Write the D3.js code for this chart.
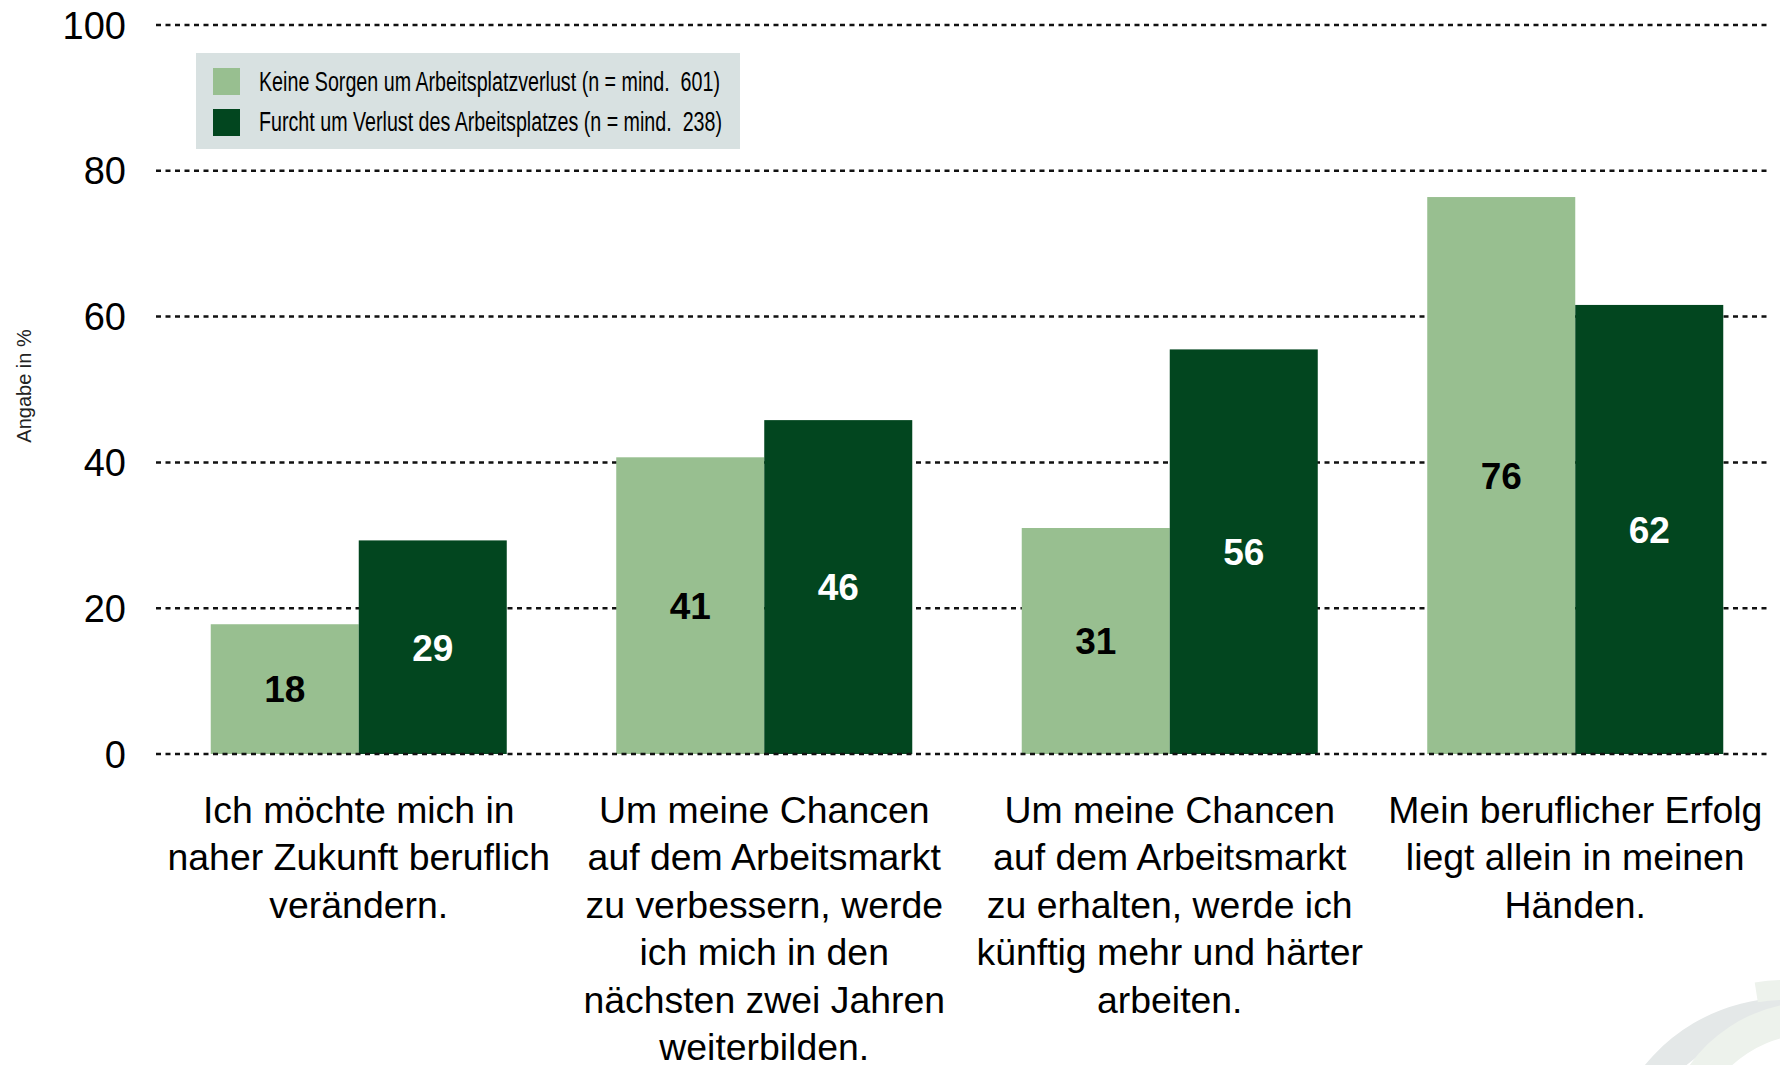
<!DOCTYPE html>
<html>
<head>
<meta charset="utf-8">
<script src="https://cdn.jsdelivr.net/npm/d3@7"></script>
<style>
  html, body { margin: 0; padding: 0; background: #fff; }
  svg { display: block; }
  .pre { white-space: pre; }
</style>
</head>
<body>
<svg id="chart" width="1780" height="1065"></svg>
<script>
const categories = [
  ["Ich möchte mich in", "naher Zukunft beruflich", "verändern."],
  ["Um meine Chancen", "auf dem Arbeitsmarkt", "zu verbessern, werde", "ich mich in den", "nächsten zwei Jahren", "weiterbilden."],
  ["Um meine Chancen", "auf dem Arbeitsmarkt", "zu erhalten, werde ich", "künftig mehr und härter", "arbeiten."],
  ["Mein beruflicher Erfolg", "liegt allein in meinen", "Händen."]
];
const seriesNames = [
  "Keine Sorgen um Arbeitsplatzverlust (n = mind.  601)",
  "Furcht um Verlust des Arbeitsplatzes (n = mind.  238)"
];
// bar heights
const keineSorgen = [17.8, 40.7, 31.0, 76.4];
const furcht = [29.3, 45.8, 55.5, 61.6];
// printed value labels
const keineSorgenLabels = [18, 41, 31, 76];
const furchtLabels = [29, 46, 56, 62];
const yTicks = [0, 20, 40, 60, 80, 100];
const yTitle = "Angabe in %";

const colors = ["#98bf90", "#02461f"];
const labelColors = ["#000", "#fff"];
const series = [keineSorgen, furcht];
const seriesLabels = [keineSorgenLabels, furchtLabels];

const svg = d3.select("#chart");
const font = "'Liberation Sans', Arial, Helvetica, sans-serif";

// Logo decoration (faint)
const deco = svg.append("g");
deco.append("path")
  .attr("d", d3.arc().innerRadius(152).outerRadius(182).startAngle(-Math.PI * 0.62).endAngle(Math.PI * 0.1)())
  .attr("transform", "translate(1786,1180)")
  .attr("fill", "#e4e8e8");
deco.append("path")
  .attr("d", d3.arc().innerRadius(118).outerRadius(150).startAngle(-Math.PI * 0.42).endAngle(Math.PI * 0.05)())
  .attr("transform", "translate(1812,1152)")
  .attr("fill", "#edf2ec");
deco.append("path")
  .attr("d", d3.arc().innerRadius(180).outerRadius(200).startAngle(-Math.PI * 0.05).endAngle(Math.PI * 0.15)())
  .attr("transform", "translate(1786,1180)")
  .attr("fill", "#edf2ec");

const y = d3.scaleLinear().domain([0, 100]).range([754, 25]);
const x0 = d3.scaleBand().domain(d3.range(categories.length)).range([156, 1778]).paddingInner(0.27).paddingOuter(0.135);
const x1 = d3.scaleBand().domain([0, 1]).range([0, x0.bandwidth()]).padding(0);

// Gridlines
const gridG = svg.append("g");
yTicks.filter(t => t !== 0).forEach(t => {
  gridG.append("line")
    .attr("x1", 156).attr("x2", 1771)
    .attr("y1", y(t)).attr("y2", y(t))
    .attr("stroke", "#111").attr("stroke-width", 2.5)
    .attr("stroke-dasharray", "5,4.5");
});

// Y tick labels
svg.append("g").selectAll("text").data(yTicks).join("text")
  .attr("x", 126).attr("y", d => y(d))
  .attr("dy", "0.36em")
  .attr("text-anchor", "end")
  .attr("font-family", font).attr("font-size", 38)
  .attr("fill", "#000")
  .text(d => d);

// Y title
svg.append("text")
  .attr("transform", "translate(31,386) rotate(-90)")
  .attr("text-anchor", "middle")
  .attr("font-family", font).attr("font-size", 20)
  .attr("fill", "#222")
  .text(yTitle);

// Bars
const groups = svg.append("g").selectAll("g").data(categories.map((c, i) => i)).join("g")
  .attr("transform", i => `translate(${x0(i)},0)`);
groups.each(function(i) {
  const g = d3.select(this);
  series.forEach((s, k) => {
    g.append("rect")
      .attr("x", x1(k)).attr("width", x1.bandwidth())
      .attr("y", y(s[i])).attr("height", y(0) - y(s[i]))
      .attr("fill", colors[k]);
    g.append("text")
      .attr("x", x1(k) + x1.bandwidth() / 2)
      .attr("y", (y(s[i]) + y(0)) / 2)
      .attr("dy", "0.36em")
      .attr("text-anchor", "middle")
      .attr("font-family", font).attr("font-weight", "bold").attr("font-size", 37)
      .attr("fill", labelColors[k])
      .text(seriesLabels[k][i]);
  });
});

// Zero line on top
svg.append("line")
  .attr("x1", 156).attr("x2", 1771)
  .attr("y1", y(0)).attr("y2", y(0))
  .attr("stroke", "#111").attr("stroke-width", 2.5)
  .attr("stroke-dasharray", "5,4.5");

// Category labels
svg.append("g").selectAll("text").data(categories.map((c, i) => i)).join("text")
  .attr("x", i => x0(i) + x0.bandwidth() / 2)
  .attr("y", 823)
  .attr("text-anchor", "middle")
  .attr("font-family", font).attr("font-size", 37.4)
  .attr("fill", "#000")
  .each(function(i) {
    const t = d3.select(this);
    categories[i].forEach((line, j) => {
      t.append("tspan")
        .attr("x", x0(i) + x0.bandwidth() / 2)
        .attr("y", 823 + j * 47.4)
        .text(line);
    });
  });

// Legend
const leg = svg.append("g");
leg.append("rect").attr("x", 196).attr("y", 53).attr("width", 544).attr("height", 96).attr("fill", "#d8e1e1");
const legBaselines = [91, 131];
seriesNames.forEach((name, k) => {
  leg.append("rect").attr("x", 213).attr("y", k === 0 ? 68 : 109).attr("width", 27).attr("height", 27).attr("fill", colors[k]);
  leg.append("text")
    .attr("class", "pre")
    .attr("x", 259).attr("y", legBaselines[k])
    .attr("font-family", "'Liberation Sans Narrow', 'Arial Narrow', " + font)
    .attr("font-size", 27)
    .attr("textLength", k === 0 ? 461 : 463)
    .attr("lengthAdjust", "spacingAndGlyphs")
    .attr("fill", "#000")
    .text(name);
});
</script>
</body>
</html>
